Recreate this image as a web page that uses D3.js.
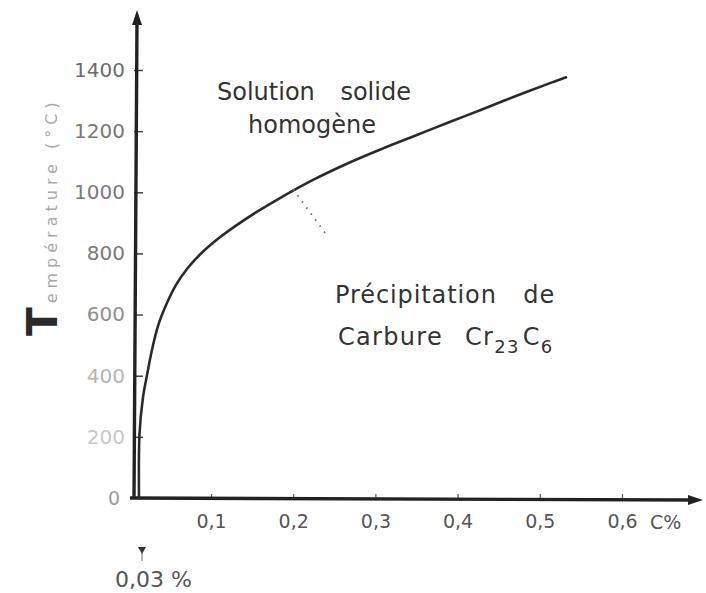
<!DOCTYPE html>
<html>
<head>
<meta charset="utf-8">
<script src="https://cdn.jsdelivr.net/npm/d3@7"></script>
<style>
  body { margin: 0; background: #fff; }
  svg { display: block; }
</style>
</head>
<body>
<svg id="chart" width="706" height="593"></svg>
<script>
// Solvus of Cr23C6 carbide: carbon content (wt %) vs temperature (°C)
const carbon = [0.03, 0.0305, 0.0339, 0.0378, 0.0426, 0.0485, 0.0563, 0.066, 0.0776, 0.0913,
                0.1085, 0.1304, 0.1547, 0.1839, 0.2253, 0.2667, 0.308, 0.3482, 0.3895, 0.4297,
                0.471, 0.5124, 0.5319];
const temperature = [0, 210, 330, 402, 484, 563, 631, 697, 753, 803,
                     848, 891, 934, 981, 1042, 1095, 1142, 1185, 1229, 1271,
                     1315, 1357, 1376];

const xTicks = [0.1, 0.2, 0.3, 0.4, 0.5, 0.6];
const xTickLabels = ["0,1", "0,2", "0,3", "0,4", "0,5", "0,6"];
const yTicks = [200, 400, 600, 800, 1000, 1200, 1400];
const yTickLabels = ["200", "400", "600", "800", "1000", "1200", "1400"];
const yTickShades = ["#c6c6c6", "#b4b4b4", "#8e8e8e", "#7a7a7a", "#7a7a7a", "#777", "#6c6c6c"];

const minCarbon = 0.03;          // marked solubility limit at room temperature
const minCarbonLabel = "0,03 %";

const svg = d3.select("#chart");
const ink = "#222";
const font = "'DejaVu Sans', sans-serif";

// The low-carbon end of the abscissa is stretched by hand in the original drawing
const x = d3.scaleLinear().domain([0, 0.03, 0.1, 0.6]).range([133, 139, 211, 622]);
const y = d3.scaleLinear().domain([0, 1400]).range([498, 70]);

const x0 = x(0) + 1, y0 = y(0);

// ---- y axis: ticks pointing into the plot, labels on the left
const yAxis = d3.axisLeft(y)
  .tickValues(yTicks)
  .tickSizeInner(-9)
  .tickSizeOuter(0)
  .tickPadding(9)
  .tickFormat((d, i) => yTickLabels[i]);

const gy = svg.append("g").attr("transform", `translate(${x0},0)`).call(yAxis);
gy.select(".domain").remove();
gy.selectAll(".tick line").attr("stroke", "#444").attr("stroke-width", 1.5);
gy.selectAll(".tick text")
  .attr("font-family", font).attr("font-size", 20)
  .attr("fill", (d, i) => yTickShades[i]);

// ---- x axis: short ticks above the line
const xAxis = d3.axisBottom(x)
  .tickValues(xTicks)
  .tickSizeInner(-4)
  .tickSizeOuter(0)
  .tickPadding(17)
  .tickFormat((d, i) => xTickLabels[i]);

const gx = svg.append("g").attr("transform", `translate(0,${y0})`).call(xAxis);
gx.select(".domain").remove();
gx.selectAll(".tick line").attr("stroke", "#555").attr("stroke-width", 1.2);
gx.selectAll(".tick text")
  .attr("font-family", font).attr("font-size", 19)
  .attr("fill", "#555");

// origin label
svg.append("text")
  .attr("x", x0 - 20).attr("y", y0 + 7)
  .attr("font-family", font).attr("font-size", 19)
  .attr("fill", "#9a9a9a").attr("text-anchor", "middle")
  .text("0");

// unit of the abscissa
svg.append("text")
  .attr("x", x(0.6) + 28).attr("y", y0 + 31)
  .attr("font-family", font).attr("font-size", 19)
  .attr("fill", "#555")
  .text("C%");

// ---- heavy axis lines with arrow heads
const xEnd = 703, yTop = 10;
svg.append("line")
  .attr("x1", x0 - 4).attr("y1", y0).attr("x2", xEnd - 10).attr("y2", y0 + 2)
  .attr("stroke", ink).attr("stroke-width", 3.4);
svg.append("line")
  .attr("x1", x0).attr("y1", y0 + 1).attr("x2", x0 + 3).attr("y2", yTop + 10)
  .attr("stroke", ink).attr("stroke-width", 3.4);
svg.append("path")
  .attr("d", `M${xEnd},${y0 + 2} L${xEnd - 15},${y0 - 3} L${xEnd - 15},${y0 + 7} Z`)
  .attr("fill", ink);
svg.append("path")
  .attr("d", `M${x0 + 3},${yTop} L${x0 - 2},${yTop + 15} L${x0 + 8},${yTop + 15} Z`)
  .attr("fill", ink);

// ---- y axis title, the first letter heavily inked
const yTitle = svg.append("text")
  .attr("transform", `translate(57,336) rotate(-90)`)
  .attr("font-family", font);
yTitle.append("tspan")
  .attr("font-size", 42).attr("font-weight", "bold").attr("fill", "#2a2a2a")
  .text("T");
yTitle.append("tspan")
  .attr("font-size", 16).attr("fill", "#a8a8a8").attr("letter-spacing", 5)
  .attr("dx", 4)
  .text("empérature (°C)");

// ---- solvus curve
const pts = carbon.map((c, i) => [c, temperature[i]]);
const line = d3.line()
  .x(d => x(d[0]))
  .y(d => y(d[1]))
  .curve(d3.curveCatmullRom.alpha(0.5));

svg.append("path")
  .datum(pts)
  .attr("d", line)
  .attr("fill", "none")
  .attr("stroke", "#2a2a2a")
  .attr("stroke-width", 2.6)
  .attr("stroke-linecap", "round");

// dotted leader from the curve towards the precipitation field
svg.append("line")
  .attr("x1", x(0.2)).attr("y1", y(1010))
  .attr("x2", x(0.2423)).attr("y2", y(854))
  .attr("stroke", "#666").attr("stroke-width", 1.8)
  .attr("stroke-dasharray", "1.5 6");

// ---- region labels
const label = (cx, t, txt, ls) => svg.append("text")
  .attr("x", x(cx)).attr("y", y(t))
  .attr("font-family", font).attr("font-size", 24)
  .attr("fill", "#333").attr("word-spacing", 18)
  .attr("letter-spacing", ls)
  .text(txt);

label(0.1073, 1302, "Solution solide", 0);
label(0.145, 1194, "homogène", 0);
label(0.2509, 638, "Précipitation de", 0.9);

const carb = svg.append("text")
  .attr("x", x(0.2545)).attr("y", y(500))
  .attr("font-family", font).attr("font-size", 24)
  .attr("fill", "#333").attr("letter-spacing", 1.3);
carb.append("tspan").text("Carbure");
carb.append("tspan").attr("dx", 22).text("Cr");
carb.append("tspan").attr("font-size", 18).attr("dy", 8).text("23");
carb.append("tspan").attr("dy", -8).attr("dx", 3).text("C");
carb.append("tspan").attr("font-size", 18).attr("dy", 8).text("6");

// ---- marker for the minimum carbon content
const mx = x(minCarbon) + 3;
svg.append("path")
  .attr("d", `M${mx - 4},${y0 + 49} L${mx + 4},${y0 + 49} L${mx},${y0 + 56} Z`)
  .attr("fill", "#333");
svg.append("line")
  .attr("x1", mx).attr("y1", y0 + 55).attr("x2", mx).attr("y2", y0 + 63)
  .attr("stroke", "#666").attr("stroke-width", 1);
svg.append("text")
  .attr("x", mx - 27).attr("y", y0 + 89)
  .attr("font-family", font).attr("font-size", 22)
  .attr("fill", "#555")
  .text(minCarbonLabel);
</script>
</body>
</html>
